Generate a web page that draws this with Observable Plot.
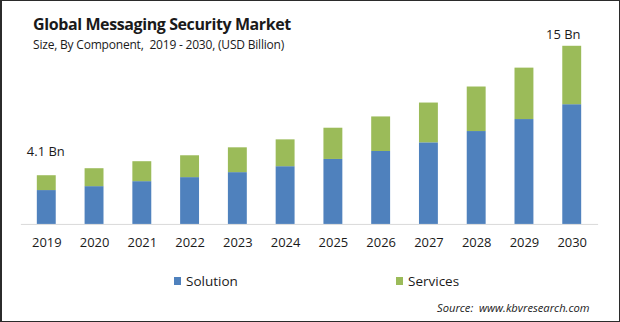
<!DOCTYPE html>
<html>
<head>
<meta charset="utf-8">
<script src="https://cdn.jsdelivr.net/npm/d3@7"></script>
<script src="https://cdn.jsdelivr.net/npm/@observablehq/plot@0.6"></script>
<style>
  html, body { margin: 0; padding: 0; background: #fff; }
  #wrap { position: relative; width: 620px; height: 322px; box-sizing: border-box;
          border: 1px solid #2b2b2b; border-left-width: 2px; overflow: hidden;
          font-family: "Open Sans", sans-serif; color: #1a1a1a; }
  #title { position: absolute; left: 31px; top: 12px; font-size: 16px; letter-spacing: -0.4px; font-weight: 700; white-space: nowrap; }
  #subtitle { position: absolute; left: 31px; top: 35px; font-size: 12px; letter-spacing: -0.2px; white-space: nowrap; }
  #chart { position: absolute; left: -2px; top: -1px; }
  .leg { position: absolute; top: 271px; font-size: 13.5px; white-space: nowrap; display: flex; align-items: center; }
  .sw { display: inline-block; width: 7px; height: 8px; margin-right: 5px; }
  #source { position: absolute; left: 435px; top: 299px; font-size: 11.2px; font-style: italic; white-space: nowrap; }
</style>
</head>
<body>
<div id="wrap">
  <div id="title">Global Messaging Security Market</div>
  <div id="subtitle">Size, By Component,&nbsp; 2019 - 2030, (USD Billion)</div>
  <div id="chart"></div>
  <div class="leg" style="left:172px"><span class="sw" style="background:#4f81bd"></span>Solution</div>
  <div class="leg" style="left:394px"><span class="sw" style="background:#9bbb59"></span>Services</div>
  <div id="source">Source:&nbsp; www.kbvresearch.com</div>
</div>
<script>
const years = ["2019","2020","2021","2022","2023","2024","2025","2026","2027","2028","2029","2030"];
const solution = [2.85, 3.18, 3.60, 3.94, 4.36, 4.86, 5.47, 6.14, 6.87, 7.82, 8.83, 10.08];
const services = [1.25, 1.51, 1.68, 1.84, 2.09, 2.26, 2.63, 2.91, 3.35, 3.75, 4.33, 4.92];
const components = ["Solution", "Services"];
const colors = ["#4f81bd", "#9bbb59"];
const firstLabel = {year: "2019", value: 4.1, text: "4.1 Bn"};
const lastLabel = {year: "2030", value: 15, text: "15 Bn"};

const rows = [
  ...years.map((y, i) => ({year: y, component: "Solution", value: solution[i]})),
  ...years.map((y, i) => ({year: y, component: "Services", value: services[i]}))
];

const chart = Plot.plot({
  width: 622,
  height: 262,
  marginLeft: 21,
  marginRight: 21,
  marginTop: 46,
  marginBottom: 37,
  style: {fontFamily: "Open Sans, sans-serif", fontSize: "13px", color: "#1a1a1a", background: "transparent"},
  x: {domain: years, paddingInner: 0.6, paddingOuter: 0.3, label: null},
  y: {domain: [0, 15], axis: null},
  color: {domain: components, range: colors},
  marks: [
    Plot.ruleY([0], {stroke: "#d9d9d9", strokeWidth: 1}),
    Plot.barY(rows, {x: "year", y: "value", fill: "component", order: components}),
    Plot.axisX({tickSize: 0, tickPadding: 13, fontSize: 13, label: null, fill: "#1a1a1a"}),
    Plot.text([firstLabel], {x: "year", y: "value", text: "text", dy: -24, dx: -1, fontSize: 13, fill: "#1a1a1a"}),
    Plot.text([lastLabel], {x: "year", y: "value", text: "text", dy: -11, dx: -9, fontSize: 13, fill: "#1a1a1a"})
  ]
});
document.getElementById("chart").appendChild(chart);
</script>
</body>
</html>
